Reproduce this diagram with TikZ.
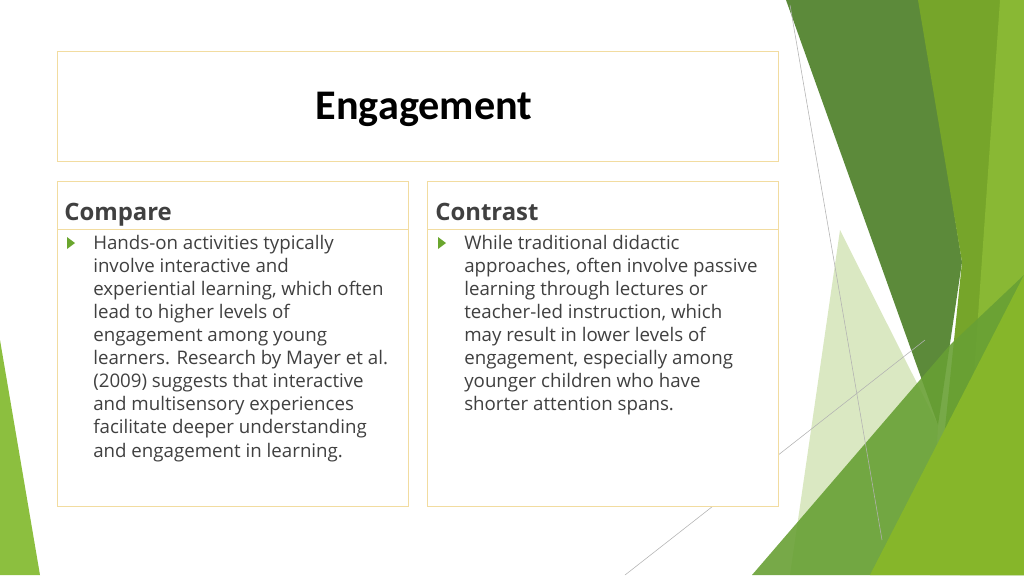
\documentclass[tikz,border=0pt]{standalone}
\usepackage{fontspec}
\setmainfont{Open Sans}
\newfontfamily\titlefont{Carlito}
\usetikzlibrary{positioning}
\definecolor{boxline}{HTML}{F2DCA0}
\definecolor{txtgray}{HTML}{404040}
\definecolor{bulgreen}{HTML}{6AA62E}
\begin{document}
\begin{tikzpicture}[x=0.025cm,y=-0.025cm]
\tikzstyle{frame}=[draw=boxline, line width=0.6pt]
\tikzstyle{head}=[anchor=base west, inner sep=0pt, font=\bfseries\fontsize{17}{20}\selectfont, text=txtgray]
\tikzstyle{body}=[anchor=north west, inner sep=0pt, align=left, font=\fontsize{13.3}{16.4}\selectfont, text=txtgray]
\tikzstyle{bul}=[fill=bulgreen]
\useasboundingbox (0,0) rectangle (1024,575);
% background facets
\fill[fill={rgb,255:red,140;green,191;blue,63}] (0,340) -- (40,575) -- (0,575) -- cycle;
\fill[fill={rgb,255:red,92;green,138;blue,58}] (786,0) -- (920,0) -- (962,262) -- (938,425) -- cycle;
\fill[fill={rgb,255:red,118;green,165;blue,42}] (918,0) -- (1024,0) -- (1024,575) -- (930,575) -- (962,262) -- cycle;
\fill[fill={rgb,255:red,137;green,184;blue,52}] (1000,0) -- (1024,0) -- (1024,575) -- (960,575) -- cycle;
\fill[fill={rgb,255:red,150;green,190;blue,80}, opacity=0.35] (790,575) -- (840,230) -- (938,425) -- (930,575) -- cycle;
\fill[fill={rgb,255:red,104;green,160;blue,52}, opacity=0.9] (752,575) -- (950,345) -- (1024,275) -- (1024,575) -- cycle;
\fill[fill={rgb,255:red,134;green,182;blue,42}] (870,575) -- (1024,275) -- (1024,575) -- cycle;
\coordinate (l1a) at (790,5);
\coordinate (l1b) at (882,540);
\coordinate (l2a) at (625,575);
\coordinate (l2b) at (925,340);
\draw[gray!60, line width=0.4pt] (l1a) -- (l1b);
\draw[gray!60, line width=0.4pt] (l2a) -- (l2b);
% boxes
\draw[frame, fill=white] (57,51) rectangle (778,161);
\draw[frame, fill=white] (57,181) rectangle (408,506);
\draw[frame] (57,229) -- (408,229);
\draw[frame, fill=white] (427,181) rectangle (778,506);
\draw[frame] (427,229) -- (778,229);
\node (title) at (424,109) {\titlefont\bfseries\fontsize{30}{33}\selectfont Engagement};
\node (cmp) [head] at (64,220) {Compare};
\node (ctr) [head] at (435,220) {Contrast};
\fill[bul] (67,237) -- (75,243) -- (67,249) -- cycle;
\fill[bul] (438,237) -- (446,243) -- (438,249) -- cycle;
\node (cmptxt) [body] at (93,235) {Hands-on activities typically\\involve interactive and\\experiential learning, which often\\lead to higher levels of\\engagement among young\\learners. Research by Mayer et al.\\(2009) suggests that interactive\\and multisensory experiences\\facilitate deeper understanding\\and engagement in learning.};
\node (ctrtxt) [body] at (464,235) {While traditional didactic\\approaches, often involve passive\\learning through lectures or\\teacher-led instruction, which\\may result in lower levels of\\engagement, especially among\\younger children who have\\shorter attention spans.};
\end{tikzpicture}
\end{document}
